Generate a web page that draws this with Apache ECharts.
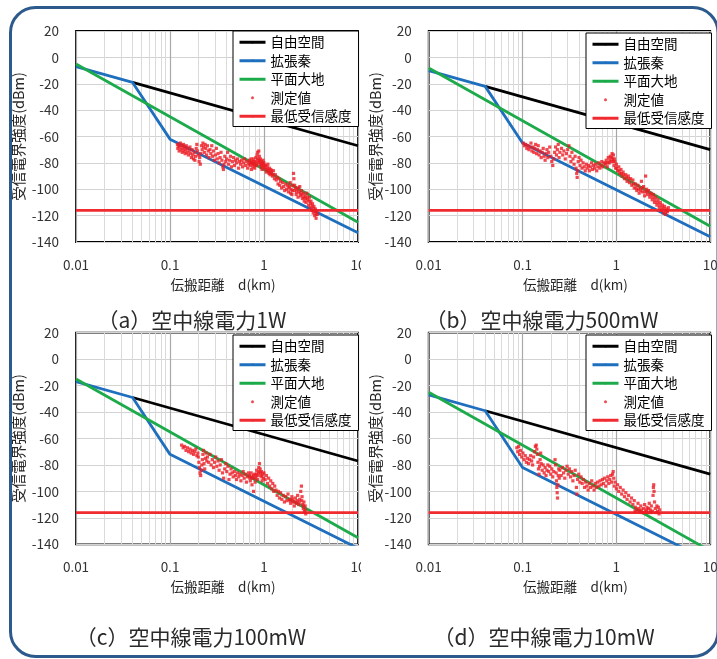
<!DOCTYPE html>
<html><head><meta charset="utf-8">
<script src="https://cdn.jsdelivr.net/npm/echarts@6/dist/echarts.min.js"></script>
<style>
html,body{margin:0;padding:0;background:#fff;}
#left{position:absolute;left:0;top:0;width:361px;height:659px;}
#right{position:absolute;left:361px;top:0;width:356px;height:659px;}
#frame{position:absolute;left:0;top:0;width:717px;height:659px;pointer-events:none;}
</style></head><body>
<div id="left"></div><div id="right"></div><div id="frame"></div>
<script>
// ---- data ----
const seriesNames = ['自由空間', '拡張秦', '平面大地', '測定値', '最低受信感度'];
const panelTitles = ['（a）空中線電力1W', '（b）空中線電力500mW', '（c）空中線電力100mW', '（d）空中線電力10mW'];
const xAxisName = '伝搬距離　d(km)';
const yAxisName = '受信電界強度(dBm)';
const xRange = [0.01, 10];
const yRange = [-140, 20];
const yStep = 20;
const minorXGrid = [0.02,0.03,0.04,0.05,0.06,0.07,0.08,0.09,0.2,0.3,0.4,0.5,0.6,0.7,0.8,0.9,2,3,4,5,6,7,8,9];

const freeSpaceA = [[0.04,-19],[10,-67]];
const freeSpaceB = [[0.04,-22],[10,-70]];
const freeSpaceC = [[0.04,-29],[10,-77]];
const freeSpaceD = [[0.04,-39],[10,-87]];

const hataA = [[0.01,-7],[0.04,-19],[0.1,-62],[10,-133]];
const hataB = [[0.01,-10],[0.04,-22],[0.1,-65],[10,-136]];
const hataC = [[0.01,-17],[0.04,-29],[0.1,-72],[10,-143]];
const hataD = [[0.01,-27],[0.04,-39],[0.1,-82],[10,-153]];

const planeA = [[0.01,-5],[10,-125]];
const planeB = [[0.01,-8],[10,-128]];
const planeC = [[0.01,-15],[10,-135]];
const planeD = [[0.01,-25],[10,-145]];

const sensitivity = [[0.01,-116],[10,-116]];

const measA = [[0.120,-66],[0.121,-69],[0.123,-67],[0.125,-71],[0.127,-68],[0.129,-65],[0.131,-70],[0.133,-67],[0.135,-72],[0.137,-69],[0.139,-66],[0.141,-71],[0.143,-68],[0.145,-73],[0.147,-70],[0.149,-67],[0.152,-72],[0.154,-69],[0.157,-74],[0.160,-71],[0.163,-68],[0.166,-73],[0.169,-76],[0.172,-70],[0.175,-74],[0.178,-77],[0.181,-72],[0.184,-78],[0.187,-75],[0.190,-69],[0.193,-66],[0.196,-71],
[0.200,-74],[0.204,-79],[0.207,-76],[0.210,-81],[0.213,-73],[0.216,-67],[0.220,-70],[0.224,-65],[0.228,-68],[0.232,-72],[0.236,-66],[0.240,-69],[0.245,-74],[0.250,-67],[0.255,-71],
[0.260,-76],[0.266,-70],[0.272,-73],[0.278,-67],[0.284,-75],[0.290,-71],[0.297,-78],[0.304,-74],[0.311,-69],[0.318,-77],[0.325,-73],[0.333,-80],[0.341,-76],[0.349,-72],[0.357,-78],[0.365,-83],[0.370,-85],[0.375,-81],[0.383,-75],[0.392,-79],
[0.400,-77],[0.410,-72],[0.420,-81],[0.430,-78],[0.440,-75],[0.450,-83],[0.462,-79],[0.474,-76],[0.486,-82],[0.498,-78],[0.510,-80],[0.523,-77],[0.536,-84],[0.550,-79],[0.564,-81],[0.578,-78],[0.592,-83],[0.607,-80],[0.622,-77],[0.638,-82],[0.654,-79],[0.670,-84],[0.687,-81],
[0.700,-78],[0.712,-82],[0.724,-80],[0.736,-85],[0.748,-79],[0.760,-83],[0.772,-77],[0.784,-81],[0.796,-84],[0.808,-79],[0.820,-76],[0.832,-82],[0.844,-74],[0.856,-72],[0.868,-78],[0.880,-71],[0.892,-75],[0.904,-80],[0.916,-77],[0.928,-83],[0.940,-79],[0.952,-85],[0.964,-81],[0.976,-78],[0.988,-83],
[0.706,-80],[0.730,-77],[0.754,-81],[0.778,-79],[0.802,-82],[0.826,-80],[0.850,-77],[0.874,-80],[0.898,-78],[0.922,-81],[0.946,-82],[0.970,-80],
[1.00,-80],[1.02,-84],[1.04,-82],[1.06,-87],[1.08,-83],[1.10,-81],[1.12,-86],[1.14,-84],[1.16,-89],[1.18,-85],[1.20,-88],[1.23,-90],[1.26,-86],[1.29,-92],
[1.01,-82],[1.05,-85],[1.09,-85],[1.13,-88],[1.17,-87],[1.21,-86],[1.25,-89],
[1.32,-89],[1.35,-93],[1.38,-91],[1.41,-96],[1.44,-92],[1.47,-97],[1.50,-94],[1.54,-99],[1.58,-95],[1.62,-98],[1.66,-101],[1.70,-96],[1.74,-100],[1.78,-97],
[1.82,-102],[1.86,-98],[1.90,-95],[1.94,-100],[1.98,-104],[2.02,-97],[2.06,-88],[2.08,-92],[2.10,-101],[2.15,-99],[2.20,-104],[2.25,-100],[2.30,-106],[2.35,-102],[2.40,-98],[2.45,-105],[2.50,-101],[2.56,-107],[2.62,-103],[2.68,-109],
[1.84,-99],[1.92,-103],[2.00,-101],[2.12,-97],[2.22,-102],[2.32,-99],[2.42,-103],[2.53,-104],[2.65,-106],
[2.74,-105],[2.80,-110],[2.86,-103],[2.92,-108],[2.98,-112],[3.04,-106],[3.10,-114],[3.16,-109],[3.22,-116],[3.28,-111],[3.34,-118],[3.40,-113],[3.46,-120],[3.52,-115],[3.58,-122],[3.64,-117],[3.70,-119],
[2.77,-107],[2.89,-106],[3.01,-109],[3.13,-111],[3.25,-113],[3.37,-115],[3.49,-117],[3.61,-119]];

const measB = [[0.102,-65],[0.105,-67],[0.108,-66],[0.111,-69],[0.114,-67],[0.117,-70],[0.120,-68],[0.123,-65],[0.126,-71],[0.129,-68],[0.132,-72],[0.135,-69],[0.138,-66],[0.141,-73],[0.144,-70],[0.147,-67],[0.150,-74],[0.154,-71],[0.158,-76],[0.162,-72],[0.166,-69],[0.170,-75],[0.174,-78],[0.178,-73],[0.182,-70],[0.186,-76],[0.190,-72],[0.195,-68],
[0.200,-75],[0.205,-79],[0.210,-82],[0.215,-77],[0.220,-72],[0.225,-68],[0.230,-74],[0.235,-70],[0.240,-66],[0.245,-76],[0.250,-72],
[0.260,-69],[0.268,-74],[0.276,-71],[0.285,-77],[0.294,-73],[0.303,-70],[0.312,-67],[0.320,-75],[0.328,-79],[0.336,-72],[0.345,-77],[0.354,-81],[0.363,-75],[0.372,-84],[0.378,-88],[0.382,-91],[0.386,-86],[0.392,-79],[0.400,-76],[0.410,-82],[0.420,-78],
[0.430,-84],[0.442,-80],[0.454,-83],[0.466,-86],[0.478,-81],[0.490,-84],[0.503,-82],[0.516,-86],[0.530,-83],[0.544,-80],[0.558,-85],[0.572,-82],[0.587,-84],[0.602,-81],[0.618,-86],[0.634,-83],[0.650,-80],[0.667,-84],[0.684,-82],[0.700,-79],[0.718,-83],[0.736,-80],
[0.760,-81],[0.780,-78],[0.800,-83],[0.820,-76],[0.840,-80],[0.860,-75],[0.880,-79],[0.900,-73],[0.915,-77],[0.930,-74],[0.945,-82],[0.960,-79],
[0.770,-80],[0.810,-80],[0.850,-78],[0.890,-76],[0.925,-79],[0.952,-77],
[0.98,-84],[1.00,-81],[1.03,-86],[1.06,-83],[1.09,-88],[1.12,-85],[1.15,-90],[1.18,-87],[1.22,-92],[1.26,-89],[1.30,-94],[1.34,-90],[1.38,-95],[1.42,-92],
[1.01,-84],[1.07,-86],[1.13,-88],[1.20,-89],[1.28,-91],[1.36,-92],
[1.46,-97],[1.50,-93],[1.55,-99],[1.60,-96],[1.65,-101],[1.70,-97],[1.75,-103],[1.80,-99],[1.85,-94],[1.90,-102],[1.95,-98],[2.00,-105],[2.05,-90],[2.10,-100],[2.15,-104],
[1.52,-96],[1.62,-99],[1.72,-100],[1.82,-101],[1.92,-99],[2.02,-102],[2.12,-102],
[2.20,-101],[2.27,-106],[2.34,-103],[2.41,-108],[2.48,-104],[2.55,-110],[2.62,-106],[2.70,-112],[2.78,-108],[2.86,-114],[2.94,-110],[3.02,-116],[3.10,-112],[3.18,-118],[3.26,-113],[3.34,-119],[3.42,-115],[3.50,-117],[3.58,-114],
[2.30,-104],[2.44,-106],[2.58,-108],[2.74,-110],[2.90,-112],[3.06,-114],[3.22,-115],[3.38,-117]];

const measC = [[0.133,-65],[0.138,-67],[0.143,-66],[0.148,-69],[0.153,-67],[0.158,-70],[0.163,-68],[0.168,-71],[0.173,-69],[0.178,-72],[0.183,-70],[0.188,-68],[0.193,-73],[0.198,-71],
[0.200,-74],[0.203,-78],[0.206,-82],[0.209,-86],[0.212,-88],[0.215,-84],[0.218,-80],[0.221,-76],[0.224,-72],[0.227,-69],[0.230,-79],[0.234,-83],[0.238,-75],[0.242,-71],[0.246,-77],
[0.250,-74],[0.258,-78],[0.266,-72],[0.274,-80],[0.282,-76],[0.290,-82],[0.298,-78],[0.306,-74],[0.315,-81],[0.324,-77],[0.333,-84],[0.342,-80],[0.352,-76],[0.362,-86],[0.372,-90],[0.382,-83],[0.392,-79],[0.402,-85],[0.413,-81],[0.424,-91],[0.435,-87],[0.446,-83],
[0.458,-86],[0.470,-89],[0.483,-85],[0.496,-88],[0.510,-91],[0.524,-86],[0.538,-89],[0.553,-87],[0.568,-92],[0.584,-88],[0.600,-85],[0.616,-90],[0.633,-87],[0.650,-93],[0.668,-89],[0.686,-86],
[0.700,-88],[0.715,-92],[0.730,-86],[0.745,-95],[0.760,-90],[0.775,-100],[0.790,-87],[0.805,-93],[0.820,-89],[0.835,-84],[0.850,-91],[0.865,-86],[0.880,-82],[0.895,-79],[0.910,-83],[0.925,-88],[0.940,-85],[0.955,-92],[0.970,-87],[0.985,-90],
[0.708,-90],[0.738,-89],[0.768,-88],[0.798,-90],[0.828,-87],[0.858,-88],[0.888,-85],[0.918,-86],[0.948,-89],
[1.00,-86],[1.03,-91],[1.06,-88],[1.09,-94],[1.12,-90],[1.15,-96],[1.18,-92],[1.21,-98],[1.24,-94],[1.27,-100],[1.30,-96],
[1.34,-99],[1.38,-103],[1.42,-100],[1.46,-105],[1.50,-101],[1.55,-106],[1.60,-103],[1.65,-108],[1.70,-104],[1.75,-107],
[1.80,-102],[1.86,-106],[1.92,-109],[1.98,-104],[2.04,-108],[2.10,-111],[2.16,-105],[2.22,-109],[2.28,-103],[2.34,-110],[2.40,-106],[2.46,-100],[2.50,-96],[2.54,-104],[2.58,-110],[2.62,-113],[2.66,-108],[2.70,-115],[2.74,-111],[2.78,-117],
[1.89,-107],[2.01,-106],[2.13,-108],[2.25,-107],[2.37,-108],[2.52,-107],[2.64,-111],[2.76,-114]];

const measD = [[0.087,-67],[0.089,-70],[0.091,-66],[0.093,-72],[0.095,-69],[0.098,-74],[0.101,-71],[0.104,-76],[0.107,-73],[0.110,-78],[0.113,-75],[0.116,-79],[0.119,-76],[0.122,-73],[0.125,-77],[0.128,-80],
[0.131,-74],[0.134,-70],[0.137,-66],[0.140,-65],[0.142,-68],[0.144,-72],[0.146,-78],[0.148,-83],[0.150,-87],[0.152,-81],[0.154,-76],[0.156,-71],[0.158,-79],
[0.162,-84],[0.166,-80],[0.170,-86],[0.174,-82],[0.178,-88],[0.182,-84],[0.186,-80],[0.190,-85],[0.195,-81],[0.200,-87],[0.205,-83],[0.210,-89],[0.215,-85],
[0.222,-76],[0.225,-80],[0.228,-86],[0.230,-92],[0.232,-97],[0.234,-101],[0.236,-105],[0.238,-95],[0.240,-88],[0.243,-83],[0.246,-90],
[0.250,-84],[0.258,-88],[0.266,-82],[0.274,-86],[0.282,-90],[0.290,-84],[0.298,-81],[0.307,-87],[0.316,-83],[0.325,-89],[0.334,-85],[0.344,-92],[0.354,-88],[0.364,-84],[0.375,-97],[0.380,-102],[0.386,-91],[0.397,-87],[0.408,-93],[0.420,-89],
[0.432,-94],[0.445,-91],[0.458,-97],[0.471,-93],[0.485,-96],[0.500,-99],[0.515,-94],[0.530,-97],[0.546,-92],[0.562,-96],[0.579,-99],[0.596,-94],[0.614,-97],[0.632,-93],[0.651,-96],[0.670,-92],
[0.690,-95],[0.710,-91],[0.730,-94],[0.750,-90],[0.770,-96],[0.790,-92],[0.810,-89],[0.830,-94],[0.850,-91],[0.870,-88],[0.890,-93],[0.910,-87],[0.925,-85],[0.940,-90],[0.950,-96],
[0.97,-93],[1.00,-98],[1.03,-95],[1.06,-100],[1.10,-97],[1.14,-102],[1.18,-99],[1.22,-104],[1.26,-101],[1.30,-106],[1.35,-103],[1.40,-108],[1.45,-105],
[1.50,-110],[1.55,-107],[1.60,-112],[1.65,-114],[1.70,-109],[1.76,-115],[1.82,-111],[1.88,-116],[1.94,-113],[2.00,-110],[2.06,-115],[2.12,-112],[2.18,-116],[2.24,-109],[2.30,-114],[2.36,-111],
[1.58,-115],[1.73,-113],[1.85,-114],[1.97,-116],[2.09,-114],[2.21,-113],[2.33,-116],
[2.42,-115],[2.46,-103],[2.48,-97],[2.50,-95],[2.52,-100],[2.55,-108],[2.60,-113],[2.65,-116],[2.70,-111],[2.75,-115],[2.80,-112],[2.85,-117],[2.90,-114]];

// ---- styling / layout ----
const FONT = '"Noto Sans CJK JP", "Noto Sans", sans-serif';
const colors = ['#000000', '#1F6FBF', '#1DAA4A', '#EC1B24', '#F02B30'];
const panels = [
  {inst: 'left',  title: panelTitles[0], free: freeSpaceA, hata: hataA, plane: planeA, meas: measA,
   grid: {left: 76, top: 31, width: 282, height: 211}, legend: {left: 233, top: 31}, tc: [192, 320], yGap: 50},
  {inst: 'right', title: panelTitles[1], free: freeSpaceB, hata: hataB, plane: planeB, meas: measB,
   grid: {left: 67.7, top: 31, width: 281.5, height: 211}, legend: {left: 225, top: 33}, tc: [181, 320], yGap: 46},
  {inst: 'left',  title: panelTitles[2], free: freeSpaceC, hata: hataC, plane: planeC, meas: measC,
   grid: {left: 76, top: 332.7, width: 282, height: 211.6}, legend: {left: 233, top: 335}, tc: [191, 637], yGap: 50},
  {inst: 'right', title: panelTitles[3], free: freeSpaceD, hata: hataD, plane: planeD, meas: measD,
   grid: {left: 67.7, top: 332.7, width: 281.5, height: 211.6}, legend: {left: 225, top: 335}, tc: [183, 637], yGap: 46}
];

function buildOption(list) {
  const opt = {animation: false, grid: [], xAxis: [], yAxis: [], legend: [], series: [], graphic: []};
  list.forEach((p, i) => {
    opt.grid.push(Object.assign({show: true, borderColor: '#000', borderWidth: 1.8, backgroundColor: 'transparent',
      outerBoundsMode: 'none'}, p.grid));
    opt.xAxis.push({
      type: 'log', logBase: 10, min: xRange[0], max: xRange[1], gridIndex: i,
      name: xAxisName, nameLocation: 'middle', nameGap: 36, nameMoveOverlap: false,
      nameTextStyle: {fontFamily: FONT, fontSize: 13.5, color: '#262626', padding: [0, 0, 0, 12]},
      axisLine: {show: false}, axisTick: {show: false},
      axisLabel: {fontFamily: FONT, fontSize: 13.5, color: '#333', margin: 16,
        alignMinLabel: 'center', alignMaxLabel: 'center'},
      splitLine: {show: true, lineStyle: {color: '#A8A8A8', width: 1.2}}
    });
    opt.yAxis.push({
      type: 'value', min: yRange[0], max: yRange[1], interval: yStep, gridIndex: i,
      name: yAxisName, nameLocation: 'middle', nameGap: p.yGap, nameMoveOverlap: false,
      nameTextStyle: {fontFamily: FONT, fontSize: 14.5, color: '#262626'},
      axisLine: {show: false}, axisTick: {show: false},
      axisLabel: {fontFamily: FONT, fontSize: 13.5, color: '#333', margin: 17},
      splitLine: {show: true, lineStyle: {color: '#D3D3D3', width: 1}}
    });
    opt.legend.push({
      orient: 'vertical', left: p.legend.left, top: p.legend.top, z: 6,
      backgroundColor: '#fff', borderColor: '#000', borderWidth: 1,
      padding: [2, 7, 1, 5], itemGap: 0, itemWidth: 26, itemHeight: 3,
      selectedMode: false,
      itemStyle: {borderWidth: 0},
      lineStyle: {type: 'solid', width: 3},
      textStyle: {fontFamily: FONT, fontSize: 13.5, color: '#000', lineHeight: 18.5},
      data: seriesNames.map(n => (n === '測定値' ? {name: n, icon: 'circle'} : {name: n}))
    });
    // minor vertical grid lines
    opt.series.push({
      type: 'line', name: 'minor' + i, xAxisIndex: i, yAxisIndex: i, data: [], z: 1, silent: true,
      markLine: {silent: true, z: 1, symbol: ['none', 'none'], label: {show: false}, animation: false,
        lineStyle: {color: '#DADADA', width: 1, type: 'solid'},
        emphasis: {disabled: true},
        data: minorXGrid.map(v => ({xAxis: v}))}
    });
    const lineSeries = (name, data, color) => ({
      type: 'line', name, data, xAxisIndex: i, yAxisIndex: i, symbol: 'none', clip: true, z: 2,
      lineStyle: {color, width: 2.8, type: 'solid'}, itemStyle: {color}, emphasis: {disabled: true}
    });
    opt.series.push(lineSeries(seriesNames[0], p.free, colors[0]));
    opt.series.push(lineSeries(seriesNames[1], p.hata, colors[1]));
    opt.series.push(lineSeries(seriesNames[2], p.plane, colors[2]));
    opt.series.push({
      type: 'scatter', name: seriesNames[3], data: p.meas, xAxisIndex: i, yAxisIndex: i, z: 2,
      symbol: 'rect', symbolSize: 3.2, itemStyle: {color: colors[3]}, emphasis: {disabled: true}
    });
    opt.series.push(lineSeries(seriesNames[4], sensitivity, colors[4]));
    opt.graphic.push({
      type: 'text', x: p.tc[0], y: p.tc[1], z: 10,
      style: {text: p.title, fontFamily: FONT, fontSize: 21, fill: '#2A2A2A', align: 'center', verticalAlign: 'middle'}
    });
  });
  return opt;
}

const leftChart = echarts.init(document.getElementById('left'), null, {renderer: 'canvas'});
leftChart.setOption(buildOption(panels.filter(p => p.inst === 'left')));
const rightChart = echarts.init(document.getElementById('right'), null, {renderer: 'canvas'});
rightChart.setOption(buildOption(panels.filter(p => p.inst === 'right')));

const frameChart = echarts.init(document.getElementById('frame'), null, {renderer: 'canvas'});
frameChart.setOption({
  animation: false,
  graphic: [{type: 'rect', silent: true,
    shape: {x: 10.5, y: 7.5, width: 707.5, height: 649, r: 25},
    style: {fill: 'none', stroke: '#2C5A8C', lineWidth: 3}}]
});
</script>
</body></html>
